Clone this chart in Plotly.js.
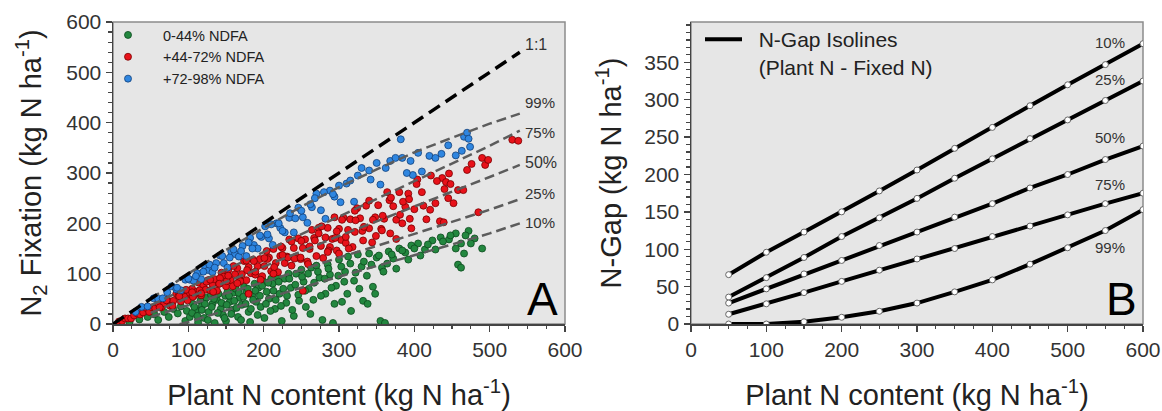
<!DOCTYPE html>
<html><head><meta charset="utf-8">
<script src="https://cdn.plot.ly/plotly-3.0.1.min.js"></script>
<style>html,body{margin:0;padding:0;background:#fff}#chart{width:1162px;height:411px}</style>
</head><body><div id="chart"></div>
<script>
// ---------- Panel A: scatter groups (Plant N content, N2 fixation) ----------
const greenX = [22,35,46,55,60,68,74,80,86,90,96,98,102,106,110,113,116,118,121,124,127,130,132,135,138,140,143,146,149,150,152,155,158,160,163,166,168,171,174,177,180,182,185,188,190,193,196,199,201,204,207,210,212,215,218,221,224,228,230,233,236,240,243,246,250,253,256,260,263,266,270,274,278,282,285,288,292,296,300,304,308,312,316,320,325,330,332,338,340,345,350,355,357,361,366,372,380,388,396,405,414,424,435,446,455,458,462,466,472,480,
  105,108,112,118,122,126,131,134,139,144,148,151,154,157,161,164,167,170,173,176,179,183,186,189,192,195,198,203,206,209,213,216,220,223,226,231,234,238,242,247,251,255,259,262,267,272,276,281,286,290,294,299,303,307,311,315,322,327,333,337,343,348,353,359,364,370,376,384,392,400,408,418,428,438,448,455,462,468,475,490];
const greenY = [4,9,14,19,8,24,14,30,21,35,6,26,14,40,28,3,46,36,12,52,24,58,40,2,48,60,30,18,56,6,64,44,28,62,70,14,52,38,74,66,24,4,58,80,44,72,34,86,12,64,50,90,80,30,94,60,6,90,42,100,72,16,100,58,108,84,34,70,112,48,116,92,8,60,118,98,2,76,128,44,104,134,26,86,138,114,46,40,140,74,132,6,112,2,144,130,150,142,156,160,148,166,172,168,180,118,160,140,185,170,
  22,34,16,28,40,8,34,50,22,42,12,38,56,20,46,32,62,8,54,40,70,30,48,66,18,56,76,40,82,26,66,48,84,36,70,56,90,28,78,46,94,66,100,20,82,104,56,90,110,72,40,96,114,84,60,120,102,70,124,96,118,60,136,104,120,138,110,146,128,150,136,158,148,164,176,150,112,176,160,150];

const redX = [8,12,16,20,24,28,32,36,40,44,48,52,56,60,64,68,72,76,80,84,
  87,90,93,96,99,102,105,108,111,114,117,120,123,126,129,132,135,138,141,144,
  147,150,153,156,159,162,165,168,171,174,177,180,183,186,189,192,195,198,201,204,
  207,210,213,216,219,222,225,228,231,234,237,240,243,246,249,252,255,258,261,264,
  267,270,273,276,279,282,285,288,291,294,297,300,303,306,309,312,315,318,321,324,
  328,332,336,340,344,348,352,356,360,364,368,372,376,380,384,388,392,396,400,404,
  410,416,422,428,434,440,446,452,458,
  437,442,445,465,470,476,485,490,494,498,530,538,252,300,180,
  62,71,79,88,97,106,115,124,133,142,151,160,169,178,187,196,205,214,223,232,
  241,250,259,268,277,286,295,304,313,322,331,340,349,358,367,376,385,394,403,412,
  421,430,439,448,
  105,117,129,141,153,165,177,189,201,213,225,237,249,261,273,285,297,309,321,333,
  345,357,369,381,393];
const redY = [5,6,11,11,11,17,21,19,23,32,24,33,31,41,33,41,48,36,46,60,
  56,45,65,54,47,62,70,57,64,82,57,76,68,87,67,79,89,66,80,102,
  94,75,107,87,75,99,111,89,99,125,87,113,101,128,98,115,129,95,115,145,
  132,105,149,121,103,135,151,121,134,168,116,151,134,170,129,151,168,124,149,187,
  171,135,191,155,131,172,191,153,169,212,146,189,167,211,161,187,208,153,183,230,
  210,166,235,190,162,212,236,189,209,262,180,234,207,262,200,233,259,190,228,287,
  262,208,295,240,204,268,299,240,266,
  290,282,250,266,306,318,222,330,316,326,366,364,66,140,60,
  33,47,36,55,68,54,67,84,64,91,85,115,85,107,125,88,129,113,154,132,
  130,165,119,166,194,146,171,207,150,206,185,245,175,215,246,169,243,209,278,235,
  227,284,202,278,
  63,61,88,80,96,81,126,104,131,100,137,164,132,154,180,143,184,173,225,193,
  207,186,251,217,248];

const blueX = [30,38,46,54,60,66,72,78,84,90,96,102,
  107,112,117,122,127,132,137,142,147,152,157,162,
  167,172,177,182,187,192,197,202,207,212,217,222,
  228,234,240,246,252,258,264,270,276,282,288,294,
  302,310,320,330,342,355,368,382,395,410,
  398,420,428,436,463,466,470,474,384,390,
  85,100,110,120,128,135,145,155,160,170,180,185,195,205,210,220,225,235,242,250,262,268,280,292,300,315,325,340,350,362,375,405,445,455,472];
const blueY = [24,34,35,51,50,51,63,75,69,67,88,88,
  86,101,89,115,107,103,121,136,121,112,144,139,
  134,155,135,171,157,150,173,194,170,157,200,191,
  182,211,182,231,212,201,232,259,226,209,265,253,
  242,279,243,310,287,277,324,367,324,303,
  296,334,330,338,344,372,380,352,330,300,
  72,90,95,104,118,112,135,132,148,145,162,150,176,178,198,200,185,220,210,225,238,250,262,258,275,285,295,305,320,310,330,340,355,335,368];

// 1:1 reference line
const oneToOneX = [0, 540];
const oneToOneY = [0, 540];

// Panel A isolines (N2 fixation vs plant N)
const isoAX = [50,100,150,200,250,300,350,400,450,500,540];
const isoA10 = [-16,4,27,50,72,94,115,137,158,180,200];
const isoA25 = [14,38,61,83,108,132,155,179,202,227,248];
const isoA50 = [22,53,83,114,144,175,204,234,263,292,316];
const isoA75 = [37,73,108,143,178,213,249,283,319,354,384];
const isoA99 = [50,100,147,191,233,272,307,341,370,398,418];

// ---------- Panel B: N-Gap isolines ----------
const gapX = [50,100,150,200,250,300,350,400,450,500,550,600];
const gap10 = [66,96,123,150,178,206,235,263,292,320,347,375];
const gap25 = [36,62,89,117,142,168,195,221,248,273,299,325];
const gap50 = [28,47,67,85,105,123,143,161,182,200,220,238];
const gap75 = [13,27,42,57,72,87,101,117,131,146,161,175];
const gap99 = [0,0,3,9,17,28,43,59,80,102,125,153];

const isoLabels = ['10%','25%','50%','75%','99%'];
const groupNames = ['0-44% NDFA','+44-72% NDFA','+72-98% NDFA'];

// ---------- build ----------
const W = 1162, H = 411;
const fx = v => v / W, fy = v => 1 - v / H;
const FONT = 'Liberation Sans, Arial, sans-serif';

const mk = (c, lc) => ({size: 7, color: c, line: {color: lc, width: 0.8}});
const traces = [];
traces.push({x: greenX, y: greenY, mode: 'markers', type: 'scatter', name: groupNames[0], marker: mk('#23873f', '#0d4a1e'), xaxis: 'x', yaxis: 'y', legend: 'legend'});
traces.push({x: redX, y: redY, mode: 'markers', type: 'scatter', name: groupNames[1], marker: mk('#e8121a', '#7a0000'), xaxis: 'x', yaxis: 'y', legend: 'legend'});
traces.push({x: blueX, y: blueY, mode: 'markers', type: 'scatter', name: groupNames[2], marker: mk('#2f86e0', '#11407a'), xaxis: 'x', yaxis: 'y', legend: 'legend'});

const isoAList = [isoA10, isoA25, isoA50, isoA75, isoA99];
isoAList.forEach((ys, i) => traces.push({x: isoAX, y: ys, mode: 'lines', type: 'scatter', name: '', showlegend: false,
  line: {color: '#5c5c5c', width: 2.5, dash: '10px,5px'}, xaxis: 'x', yaxis: 'y', hoverinfo: 'skip'}));
traces.push({x: oneToOneX, y: oneToOneY, mode: 'lines', type: 'scatter', name: '', showlegend: false,
  line: {color: '#000', width: 3.5, dash: '13px,7px'}, xaxis: 'x', yaxis: 'y'});

const gapList = [gap10, gap25, gap50, gap75, gap99];
gapList.forEach((ys, i) => traces.push({x: gapX, y: ys, mode: 'lines', type: 'scatter',
  name: '\u00a0\u00a0N-Gap Isolines<br>\u00a0\u00a0(Plant N - Fixed N)', showlegend: i === 0, legendgroup: 'gap', legend: 'legend2',
  line: {color: '#000', width: 4}, xaxis: 'x2', yaxis: 'y2'}));
gapList.forEach((ys, i) => traces.push({x: gapX, y: ys, mode: 'markers', type: 'scatter', name: '',
  showlegend: false, legendgroup: 'gap', marker: {size: 6, color: '#fff', line: {color: '#666', width: 1}}, xaxis: 'x2', yaxis: 'y2'}));

const axCommon = {
  ticks: 'outside', ticklen: 6, tickwidth: 1.5, tickcolor: '#444', showline: true, linecolor: '#444', linewidth: 1.5,
  zeroline: false, showgrid: false, tickfont: {family: FONT, size: 21, color: '#333'}
};
const TF = {family: FONT, size: 29, color: '#222'};
const plotTop = 22, plotBot = 324;
const layout = {
  width: W, height: H, margin: {l: 0, r: 0, t: 0, b: 0},
  paper_bgcolor: '#fff', plot_bgcolor: '#e6e6e6', font: {family: FONT, color: '#222'},
  xaxis: Object.assign({}, axCommon, {domain: [fx(113), fx(565)], anchor: 'y', range: [0, 600], tick0: 0, dtick: 100,
    minor: {tickmode: 'linear', tick0: 0, dtick: 25, ticks: 'outside', ticklen: 3.5, tickcolor: '#444', tickwidth: 1.2},
    title: {text: 'Plant N content (kg N ha<sup>-1</sup>)', font: TF, standoff: 31}}),
  yaxis: Object.assign({}, axCommon, {domain: [fy(plotBot), fy(plotTop)], anchor: 'x', range: [0, 600], tick0: 0, dtick: 100,
    minor: {tickmode: 'linear', tick0: 0, dtick: 20, ticks: 'outside', ticklen: 3.5, tickcolor: '#444', tickwidth: 1.2},
    title: {text: 'N<sub>2</sub> Fixation (kg N ha<sup>-1</sup>)', font: TF, standoff: 16}}),
  xaxis2: Object.assign({}, axCommon, {domain: [fx(691), fx(1143)], anchor: 'y2', range: [0, 600], tick0: 0, dtick: 100,
    minor: {tickmode: 'linear', tick0: 0, dtick: 25, ticks: 'outside', ticklen: 3.5, tickcolor: '#444', tickwidth: 1.2},
    title: {text: 'Plant N content (kg N ha<sup>-1</sup>)', font: TF, standoff: 31}}),
  yaxis2: Object.assign({}, axCommon, {domain: [fy(plotBot), fy(plotTop)], anchor: 'x2', range: [0, 404],
    tickmode: 'array', tickvals: [0,50,100,150,200,250,300,350],
    minor: {tickmode: 'linear', tick0: 0, dtick: 10, ticks: 'outside', ticklen: 3.5, tickcolor: '#444', tickwidth: 1.2},
    title: {text: 'N-Gap (kg N ha<sup>-1</sup>)', font: TF, standoff: 14}}),
  legend: {x: fx(93), y: fy(19), xanchor: 'left', yanchor: 'top', bgcolor: 'rgba(0,0,0,0)', borderwidth: 0,
    font: {family: FONT, size: 14.5, color: '#222'}, itemwidth: 60, tracegroupgap: 0},
  legend2: {x: fx(700), y: fy(19), xanchor: 'left', yanchor: 'top', bgcolor: 'rgba(0,0,0,0)', borderwidth: 0,
    font: {family: FONT, size: 21, color: '#222'}, itemwidth: 37, valign: 'top'},
  shapes: [
    {type: 'rect', xref: 'x domain', yref: 'y domain', x0: 0, x1: 1, y0: 0, y1: 1, line: {color: '#8c8c8c', width: 1.5}, layer: 'below'},
    {type: 'rect', xref: 'x2 domain', yref: 'y2 domain', x0: 0, x1: 1, y0: 0, y1: 1, line: {color: '#8c8c8c', width: 1.5}, layer: 'below'}
  ],
  annotations: [
    {text: 'A', xref: 'paper', yref: 'paper', x: fx(542), y: fy(299), xanchor: 'center', yanchor: 'middle', showarrow: false, font: {family: FONT, size: 46, color: '#000'}},
    {text: 'B', xref: 'paper', yref: 'paper', x: fx(1121), y: fy(299), xanchor: 'center', yanchor: 'middle', showarrow: false, font: {family: FONT, size: 46, color: '#000'}},
    {text: '1:1', xref: 'x', yref: 'y', x: 544, y: 555, xanchor: 'left', yanchor: 'middle', showarrow: false, font: {family: FONT, size: 16, color: '#333'}},
    {text: '99%', xref: 'x', yref: 'y', x: 544, y: 440, xanchor: 'left', yanchor: 'middle', showarrow: false, font: {family: FONT, size: 15, color: '#333'}},
    {text: '75%', xref: 'x', yref: 'y', x: 544, y: 380, xanchor: 'left', yanchor: 'middle', showarrow: false, font: {family: FONT, size: 15, color: '#333'}},
    {text: '50%', xref: 'x', yref: 'y', x: 544, y: 321, xanchor: 'left', yanchor: 'middle', showarrow: false, font: {family: FONT, size: 16, color: '#333'}},
    {text: '25%', xref: 'x', yref: 'y', x: 544, y: 260, xanchor: 'left', yanchor: 'middle', showarrow: false, font: {family: FONT, size: 15, color: '#333'}},
    {text: '10%', xref: 'x', yref: 'y', x: 544, y: 202, xanchor: 'left', yanchor: 'middle', showarrow: false, font: {family: FONT, size: 15, color: '#333'}},
    {text: '10%', xref: 'x2', yref: 'y2', x: 556, y: 377, xanchor: 'center', yanchor: 'middle', showarrow: false, font: {family: FONT, size: 15, color: '#333'}},
    {text: '25%', xref: 'x2', yref: 'y2', x: 556, y: 327, xanchor: 'center', yanchor: 'middle', showarrow: false, font: {family: FONT, size: 15, color: '#333'}},
    {text: '50%', xref: 'x2', yref: 'y2', x: 556, y: 249, xanchor: 'center', yanchor: 'middle', showarrow: false, font: {family: FONT, size: 15, color: '#333'}},
    {text: '75%', xref: 'x2', yref: 'y2', x: 556, y: 187, xanchor: 'center', yanchor: 'middle', showarrow: false, font: {family: FONT, size: 15, color: '#333'}},
    {text: '99%', xref: 'x2', yref: 'y2', x: 556, y: 103, xanchor: 'center', yanchor: 'middle', showarrow: false, font: {family: FONT, size: 15, color: '#333'}}
  ]
};
Plotly.newPlot('chart', traces, layout, {staticPlot: true, displayModeBar: false});
</script></body></html>
